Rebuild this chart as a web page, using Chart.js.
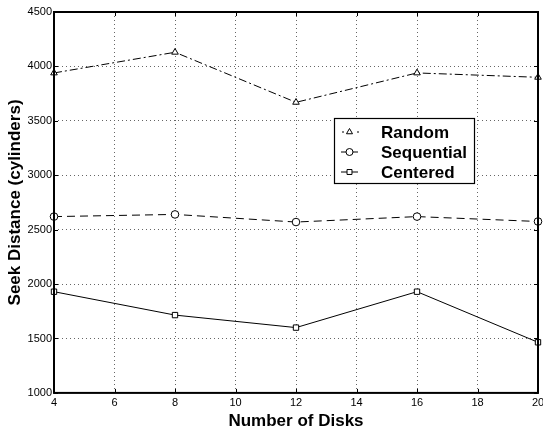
<!DOCTYPE html>
<html>
<head>
<meta charset="utf-8">
<script src="https://cdn.jsdelivr.net/npm/chart.js@4/dist/chart.umd.min.js"></script>
<style>
  html, body { margin: 0; padding: 0; background: #fff; }
  #wrap { width: 543px; height: 432px; }
</style>
</head>
<body>
<div id="wrap"><canvas id="seek-chart" width="543" height="432"></canvas></div>
<script>
// number of disks on the x axis
var disks = [4, 8, 12, 16, 20];
var randomSeek = [3940, 4130, 3670, 3940, 3900];
var sequentialSeek = [2620, 2640, 2570, 2620, 2575];
var centeredSeek = [1930, 1715, 1600, 1930, 1465];
var seriesNames = ['Random', 'Sequential', 'Centered'];

var FONT = '"Liberation Sans", Arial, sans-serif';

var toPoints = function (ys) {
  return disks.map(function (d, i) { return { x: d, y: ys[i] }; });
};

// box round the plot plus inward tick marks, matlab style
var frame = {
  id: 'frame',
  afterDatasetsDraw: function (chart) {
    var a = chart.chartArea, ctx = chart.ctx;
    var xs = chart.scales.x, ys = chart.scales.y;
    ctx.save();
    ctx.strokeStyle = '#000';
    ctx.lineWidth = 1;
    ctx.beginPath();
    xs.ticks.forEach(function (t) {
      var px = Math.round(xs.getPixelForValue(t.value)) + 0.5;
      ctx.moveTo(px, a.bottom); ctx.lineTo(px, a.bottom - 4);
      ctx.moveTo(px, a.top); ctx.lineTo(px, a.top + 4);
    });
    ys.ticks.forEach(function (t) {
      var py = Math.round(ys.getPixelForValue(t.value)) + 0.5;
      ctx.moveTo(a.left, py); ctx.lineTo(a.left + 4, py);
      ctx.moveTo(a.right, py); ctx.lineTo(a.right - 4, py);
    });
    ctx.stroke();
    ctx.lineWidth = 2;
    ctx.strokeRect(a.left, a.top, a.right - a.left, a.bottom - a.top);
    ctx.restore();
  }
};

// legend box inside the plot
var boxLegend = {
  id: 'boxLegend',
  afterDraw: function (chart) {
    var ctx = chart.ctx;
    var x0 = 334, y0 = 118, w = 140, h = 65;
    ctx.save();
    ctx.fillStyle = '#fff';
    ctx.fillRect(x0, y0, w, h);
    ctx.strokeStyle = '#000';
    ctx.lineWidth = 1.2;
    ctx.strokeRect(x0 + 0.5, y0 + 0.5, w, h);
    chart.data.datasets.forEach(function (ds, i) {
      var cy = y0 + 14 + i * 20;
      ctx.setLineDash([]);
      ctx.lineWidth = 1;
      ctx.strokeStyle = '#000';
      ctx.beginPath();
      if (i === 0) {
        ctx.moveTo(x0 + 8, cy); ctx.lineTo(x0 + 10, cy);
        ctx.moveTo(x0 + 23, cy); ctx.lineTo(x0 + 25, cy);
      } else {
        ctx.moveTo(x0 + 7, cy); ctx.lineTo(x0 + 24, cy);
      }
      ctx.stroke();
      ctx.fillStyle = '#fff';
      Chart.helpers.drawPoint(ctx, { pointStyle: ds.pointStyle, radius: 3.5, borderWidth: 1 }, x0 + 15.5, cy);
      ctx.fillStyle = '#000';
      ctx.font = 'bold 17px ' + FONT;
      ctx.textBaseline = 'middle';
      ctx.fillText(ds.label, x0 + 47, cy + 1);
    });
    ctx.restore();
  }
};

var baseSet = {
  borderColor: '#000',
  backgroundColor: '#fff',
  pointBorderColor: '#000',
  pointBackgroundColor: '#fff',
  borderWidth: 1,
  pointRadius: 3.8,
  pointBorderWidth: 1,
  tension: 0,
  fill: false
};

var seekConfig = {
  type: 'line',
  data: {
    datasets: [
      Object.assign({}, baseSet, { label: seriesNames[0], data: toPoints(randomSeek), pointStyle: 'triangle', borderDash: [8, 3, 2, 3] }),
      Object.assign({}, baseSet, { label: seriesNames[1], data: toPoints(sequentialSeek), pointStyle: 'circle', borderDash: [8, 5] }),
      Object.assign({}, baseSet, { label: seriesNames[2], data: toPoints(centeredSeek), pointStyle: 'rect' })
    ]
  },
  options: {
    responsive: false,
    animation: false,
    clip: false,
    layout: { padding: { left: 0, right: 1, top: 12, bottom: 0 } },
    plugins: { legend: { display: false }, tooltip: { enabled: false } },
    scales: {
      x: {
        type: 'linear',
        min: 4,
        max: 20,
        ticks: { stepSize: 2, color: '#000', padding: 4, maxRotation: 0, font: { family: FONT, size: 11, lineHeight: 1.1 } },
        grid: { color: '#666', lineWidth: 1, drawTicks: false },
        border: { display: false, dash: [1, 3] },
        title: { display: true, text: 'Number of Disks', color: '#000', padding: { top: 0, bottom: 2 }, font: { family: FONT, size: 17, weight: 'bold', lineHeight: 1 } },
        afterFit: function (scale) { scale.paddingLeft = 0; scale.paddingRight = 0; }
      },
      y: {
        min: 1000,
        max: 4500,
        ticks: {
          stepSize: 500, color: '#000', padding: 2, font: { family: FONT, size: 11 },
          callback: function (v) { return String(v); }
        },
        grid: { color: '#666', lineWidth: 1, drawTicks: false },
        border: { display: false, dash: [1, 3] },
        title: { display: true, text: 'Seek Distance (cylinders)', color: '#000', padding: { top: 5, bottom: 0 }, font: { family: FONT, size: 17, weight: 'bold' } },
        afterFit: function (scale) { scale.width = 54; scale.paddingTop = 0; scale.paddingBottom = 0; }
      }
    }
  },
  plugins: [frame, boxLegend]
};

window.onload = function () {
  var ctx = document.getElementById('seek-chart').getContext('2d');
  window.seekChart = new Chart(ctx, seekConfig);
};
</script>
</body>
</html>
